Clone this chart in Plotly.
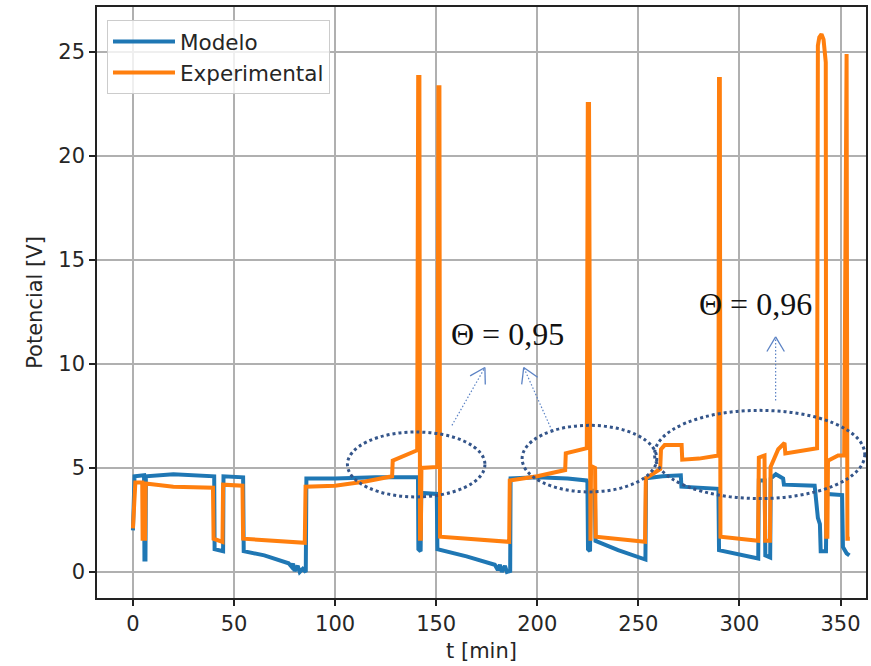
import plotly.graph_objects as go
import math

# ---------------- data ----------------
t_modelo = [0, 0.8, 5.5, 5.7, 6.2, 6.4, 20, 30, 40.2, 40.4, 44.6, 44.8, 54.5, 54.8,
            65, 77, 78.5, 79.2, 80, 81.5, 82.5, 84, 85.5, 85.8, 100, 120, 141, 141.2,
            142.3, 142.6, 150.3, 150.6, 165, 179, 180.5, 181.5, 182.5, 184, 185, 186.6,
            186.8, 200, 215, 224.3, 224.8, 225.1, 226.1, 226.4, 228.5, 228.8, 240, 253.5,
            253.8, 262, 271, 271.3, 280, 289.6, 289.9, 300, 309.3, 309.6, 312.5, 312.8,
            315.2, 315.5, 318, 321.6, 322, 337.2, 338, 338.8, 339.8, 340.2, 342.8, 343.1,
            350.8, 351.2, 353, 354.4]
v_modelo = [2.0, 4.6, 4.65, 0.6, 0.6, 4.6, 4.7, 4.65, 4.6, 1.1, 1.0, 4.6, 4.55, 1.0,
            0.8, 0.42, 0.25, 0.4, 0.05, 0.3, 0.0, 0.15, 0.0, 4.5, 4.5, 4.55, 4.55, 1.1,
            1.0, 3.8, 3.75, 1.1, 0.75, 0.35, 0.1, 0.35, 0.0, 0.3, 0.0, 0.05,
            4.5, 4.55, 4.5, 4.4, 4.3, 1.1, 1.0, 3.9, 3.9, 1.5, 1.05, 0.6,
            4.5, 4.6, 4.65, 4.1, 4.05, 4.0, 1.05, 0.85, 0.65, 4.4, 4.4, 0.8,
            0.7, 4.5, 4.7, 4.5, 4.2, 4.15, 3.4, 2.6, 2.3, 1.0, 1.0, 3.75,
            3.7, 1.2, 0.9, 0.8]

t_exp = [0, 1.2, 4.6, 4.8, 6.0, 6.3, 20, 39.6, 39.9, 44.3, 44.6, 54.2, 54.5, 70, 85,
         85.4, 100, 115, 128.2, 128.5, 135, 140.6, 141.1, 141.7, 142.0, 142.4, 142.7,
         150.6, 151.1, 151.6, 151.9, 170, 186.1, 186.4, 200, 213.8, 214.1, 224.5, 225.0,
         225.6, 225.9, 226.3, 226.6, 228.6, 228.9, 253.3, 253.7, 260.8, 261.2, 263,
         271.4, 271.7, 280, 289.6, 289.9, 290.3, 290.6, 308.8, 309.2, 309.6, 312.4,
         312.7, 315.1, 315.4, 319.2, 322.3, 322.7, 338.4, 338.8, 339.5, 340.6, 341.6,
         342.2, 342.7, 342.9, 343.5, 343.8, 348.8, 351.8, 352.6, 353.0, 353.4, 354.6]
v_exp = [2.1, 4.3, 4.3, 1.6, 1.6, 4.25, 4.1, 4.05, 1.6, 1.45, 4.2, 4.15, 1.6, 1.5, 1.4,
         4.1, 4.15, 4.35, 4.6, 5.35, 5.6, 5.85, 23.8, 23.8, 1.6, 1.6, 5.0,
         5.05, 23.3, 23.3, 1.7, 1.55, 1.45, 4.4, 4.6, 4.9, 5.7, 5.95, 22.5,
         22.5, 1.5, 1.5, 5.1, 5.0, 1.7, 1.45, 4.5, 4.95, 5.9, 6.1,
         6.1, 5.4, 5.45, 5.6, 23.7, 23.7, 1.7, 1.5, 1.5, 5.5, 5.6,
         1.5, 1.5, 5.05, 5.9, 6.2, 5.7, 5.95, 25.3, 25.7, 25.85, 25.6,
         24.6, 24.5, 1.7, 1.7, 5.35, 5.6, 5.6, 24.9, 24.9, 1.6, 1.6]

x_ticks = [0, 50, 100, 150, 200, 250, 300, 350]
y_ticks = [0, 5, 10, 15, 20, 25]

XR = [-17.77, 362.6]
YR = [-1.25, 27.16]
L, R, T, B = 97, 3, 7, 68
W, H = 871, 666
SX = (W - L - R) / (XR[1] - XR[0])
SY = (H - T - B) / (YR[1] - YR[0])

BLUE = "#1f77b4"
ORANGE = "#ff7f0e"
DOT = "#34558a"
ARROW = "#5b82c4"
FONT = "DejaVu Sans"
TXT = "#262626"

fig = go.Figure()
fig.add_trace(go.Scatter(x=t_modelo, y=v_modelo, mode="lines", name="Modelo",
                         line=dict(color=BLUE, width=4)))
fig.add_trace(go.Scatter(x=t_exp, y=v_exp, mode="lines", name="Experimental",
                         line=dict(color=ORANGE, width=4)))

shapes = []
# dotted ellipses
for (x0, x1, y0, y1) in [(106.1, 174.1, 3.61, 6.73), (192.5, 259.1, 3.85, 7.05),
                         (258.0, 362.0, 3.53, 7.77)]:
    shapes.append(dict(type="circle", xref="x", yref="y", x0=x0, x1=x1, y0=y0, y1=y1,
                       line=dict(color=DOT, width=3, dash="dot"), layer="above"))

# thin dotted arrows with open heads
arrows = [((157.8, 7.05), (174.1, 9.83)), ((207.2, 6.81), (193.3, 9.83)),
          ((317.9, 8.25), (317.9, 11.3))]
for (tx, ty), (hx, hy) in arrows:
    shapes.append(dict(type="line", xref="x", yref="y", x0=tx, y0=ty, x1=hx, y1=hy,
                       line=dict(color=ARROW, width=1.2, dash="1.5px,2px")))
    dxp = (hx - tx) * SX
    dyp = -(hy - ty) * SY
    n = math.hypot(dxp, dyp)
    ux, uy = dxp / n, dyp / n
    for ang in (math.radians(31), -math.radians(31)):
        bx = -(ux * math.cos(ang) - uy * math.sin(ang)) * 17
        by = -(ux * math.sin(ang) + uy * math.cos(ang)) * 17
        shapes.append(dict(type="line", xref="x", yref="y", x0=hx, y0=hy,
                           x1=hx + bx / SX, y1=hy - by / SY,
                           line=dict(color=ARROW, width=1.3)))

annotations = [
    dict(x=185.4, y=11.46, xref="x", yref="y", text="Θ = 0,95", showarrow=False,
         font=dict(family="Liberation Serif", size=32, color="#111111")),
    dict(x=308.1, y=12.9, xref="x", yref="y", text="Θ = 0,96", showarrow=False,
         font=dict(family="Liberation Serif", size=32, color="#111111")),
]

axis_common = dict(showgrid=True, gridcolor="#b0b0b0", gridwidth=1.6,
                   showline=True, linecolor="#222222", linewidth=1.5, mirror=True,
                   ticks="outside", ticklen=6, tickwidth=1.5, tickcolor="#222222",
                   zeroline=False,
                   tickfont=dict(family=FONT, size=21, color=TXT))

fig.update_layout(
    width=W, height=H, autosize=False,
    margin=dict(l=L, r=R, t=T, b=B),
    paper_bgcolor="white", plot_bgcolor="white",
    shapes=shapes, annotations=annotations,
    showlegend=True,
    legend=dict(x=0.013, y=0.978, xanchor="left", yanchor="top",
                bgcolor="rgba(255,255,255,0.8)", bordercolor="#cccccc", borderwidth=1,
                font=dict(family=FONT, size=21.5, color=TXT),
                itemwidth=62, tracegroupgap=0),
    xaxis=dict(range=XR, tickvals=x_ticks, ticktext=[str(v) for v in x_ticks],
               title=dict(text="t [min]", standoff=8,
                          font=dict(family=FONT, size=21, color=TXT)),
               **axis_common),
    yaxis=dict(range=YR, tickvals=y_ticks, ticktext=[str(v) for v in y_ticks],
               title=dict(text="Potencial [V]", standoff=10,
                          font=dict(family=FONT, size=21, color=TXT)),
               **axis_common),
)

fig.write_html("out.html")
